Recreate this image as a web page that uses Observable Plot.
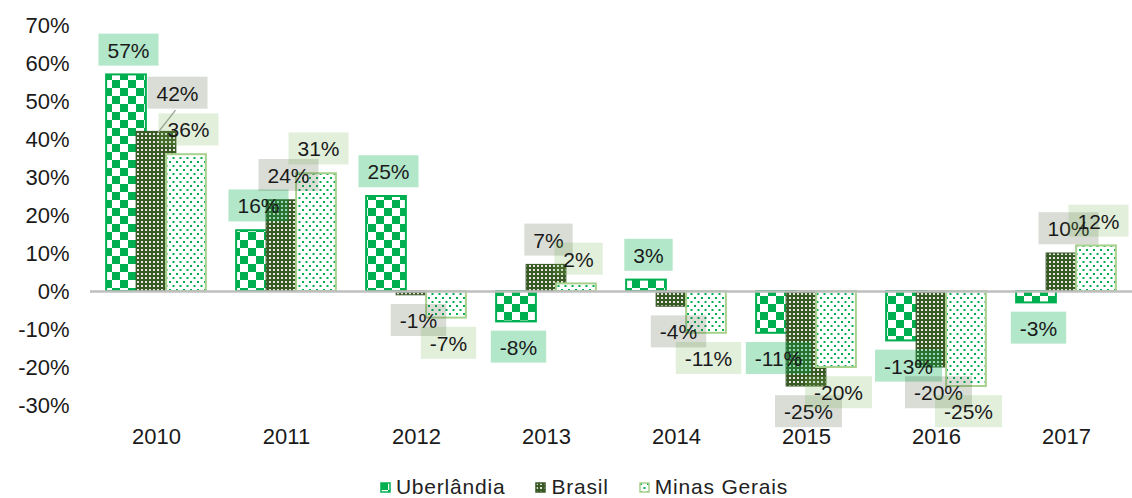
<!DOCTYPE html>
<html>
<head>
<meta charset="utf-8">
<script src="https://cdn.jsdelivr.net/npm/d3@7"></script>
<script src="https://cdn.jsdelivr.net/npm/@observablehq/plot@0.6"></script>
<style>
  body { margin: 0; background: #fff; font-family: "Liberation Sans", Arial, sans-serif; }
  #chart svg { display: block; }
  #legend { display: flex; justify-content: center; align-items: center; gap: 30px;
            margin-top: 13px; padding-left: 36px; font-size: 21px; color: #222; letter-spacing: 0.8px; }
  #legend .item { display: flex; align-items: center; gap: 5px; }
  #legend svg { display: block; }
</style>
</head>
<body>
<svg width="0" height="0" style="position:absolute">
  <defs>
    <pattern id="patU" patternUnits="userSpaceOnUse" width="16" height="16">
      <rect width="16" height="16" fill="#fff"/>
      <rect x="0" y="0" width="8" height="8" fill="#00B050"/>
      <rect x="8" y="8" width="8" height="8" fill="#00B050"/>
    </pattern>
    <pattern id="patB" patternUnits="userSpaceOnUse" width="4" height="4">
      <rect width="4" height="4" fill="#3A5A25"/>
      <rect x="1" y="1" width="2" height="2" fill="#fff" fill-opacity="0.85"/>
    </pattern>
    <pattern id="patM" patternUnits="userSpaceOnUse" width="7" height="8">
      <rect width="7" height="8" fill="#fff"/>
      <rect x="1" y="1" width="2" height="2" fill="#00B050"/>
      <rect x="4.5" y="5" width="2" height="2" fill="#00B050"/>
    </pattern>
  </defs>
</svg>
<div id="chart"></div>
<div id="legend"></div>
<script>
// ---- data ----
const years = ["2010", "2011", "2012", "2013", "2014", "2015", "2016", "2017"];
const seriesNames = ["Uberlândia", "Brasil", "Minas Gerais"];
const uberlandia  = [57, 16, 25, -8, 3, -11, -13, -3];
const brasil      = [42, 24, -1, 7, -4, -25, -20, 10];
const minasGerais = [36, 31, -7, 2, -11, -20, -25, 12];
const yTicks = [-30, -20, -10, 0, 10, 20, 30, 40, 50, 60, 70];

// ---- styles ----
const W = 1132, H = 462, ML = 90, MR = 0, MT = 25, MB = 57;
const fills   = ["url(#patU)", "url(#patB)", "url(#patM)"];
const strokes = ["#00B050", "#375623", "#A9D18E"];
const strokeWs = [2, 1, 2];
const boxColors = ["rgba(0,176,80,0.3)", "rgba(65,85,50,0.2)", "rgba(112,173,71,0.2)"];
// one label in the original is pulled out as a callout with a leader line
const calloutKey = "2010|Brasil";

const seriesValues = [uberlandia, brasil, minasGerais];
const rows = years.flatMap((yr, i) =>
  seriesNames.map((s, j) => ({year: yr, series: s, j, value: seriesValues[j][i],
                               callout: (yr + "|" + s) === calloutKey})));

const step = (W - ML - MR) / years.length;
const barW = 40, offset = 30;
function insets(j) {
  const c = step / 2 + (j - 1) * offset;
  return {insetLeft: c - barW / 2, insetRight: step - c - barW / 2};
}

const marks = [];
seriesNames.forEach((s, j) => {
  marks.push(Plot.barY(rows.filter(d => d.j === j), {
    x: "year", y: "value", fill: fills[j], stroke: strokes[j], strokeWidth: strokeWs[j],
    ...insets(j)
  }));
});
marks.push(Plot.ruleY([0], {stroke: "#BFBFBF", strokeWidth: 2.5}));
// leader line for the callout label
marks.push(Plot.vector(rows.filter(d => d.callout), {
  x: "year", y: "value", dx: 2, anchor: "start", length: 27, rotate: 38,
  stroke: "#A6A6A6", strokeWidth: 1.5,
  shape: {draw(context, l) { context.moveTo(0, 0); context.lineTo(0, -l); }}
}));
const labelSpecs = [];
seriesNames.forEach((s, j) => {
  [true, false].forEach(pos => {
    labelSpecs.push(j);
    marks.push(Plot.text(rows.filter(d => d.j === j && !d.callout && (d.value >= 0) === pos), {
      x: "year", y: "value", text: d => d.value + "%",
      dx: (j - 1) * offset + 2, dy: pos ? -24 : 26,
      fontSize: 21, fill: "#1a1a1a"
    }));
  });
  if (rows.some(d => d.j === j && d.callout)) {
    labelSpecs.push(j);
    marks.push(Plot.text(rows.filter(d => d.j === j && d.callout), {
      x: "year", y: "value", text: d => d.value + "%",
      dx: 21, dy: -38, fontSize: 21, fill: "#1a1a1a"
    }));
  }
});
marks.push(Plot.axisY({ticks: yTicks, tickSize: 0, tickPadding: 21, tickFormat: d => d + "%",
  fontSize: 22, fill: "#1a1a1a", label: null}));
marks.push(Plot.axisX({tickSize: 0, tickPadding: 23, fontSize: 22, fill: "#1a1a1a", label: null}));

const plot = Plot.plot({
  width: W, height: H,
  marginLeft: ML, marginRight: MR, marginTop: MT, marginBottom: MB,
  style: {fontFamily: '"Liberation Sans", Arial, sans-serif', background: "#fff", overflow: "visible"},
  x: {domain: years, padding: 0, label: null},
  y: {domain: [-30, 70], label: null},
  marks
});
document.getElementById("chart").append(plot);

// label boxes behind each data label
const ns = "http://www.w3.org/2000/svg";
const labelGroups = plot.querySelectorAll('g[aria-label="text"]');
labelGroups.forEach((g, gi) => {
  const j = labelSpecs[gi];
  g.querySelectorAll("text").forEach(t => {
    const bb = t.getBBox();
    const r = document.createElementNS(ns, "rect");
    r.setAttribute("x", bb.x - 9);
    r.setAttribute("y", bb.y - 5);
    r.setAttribute("width", bb.width + 18);
    r.setAttribute("height", bb.height + 9);
    const tr = t.getAttribute("transform");
    if (tr) r.setAttribute("transform", tr);
    r.setAttribute("fill", boxColors[j]);
    r.setAttribute("stroke", "none");
    g.insertBefore(r, t);
  });
});

// legend
const legend = document.getElementById("legend");
seriesNames.forEach((s, j) => {
  const item = document.createElement("div");
  item.className = "item";
  item.innerHTML = `<svg width="11" height="11"><rect x="1" y="1" width="9" height="9" fill="${fills[j]}" stroke="${strokes[j]}" stroke-width="1.5"/></svg><span>${s}</span>`;
  legend.append(item);
});
</script>
</body>
</html>
